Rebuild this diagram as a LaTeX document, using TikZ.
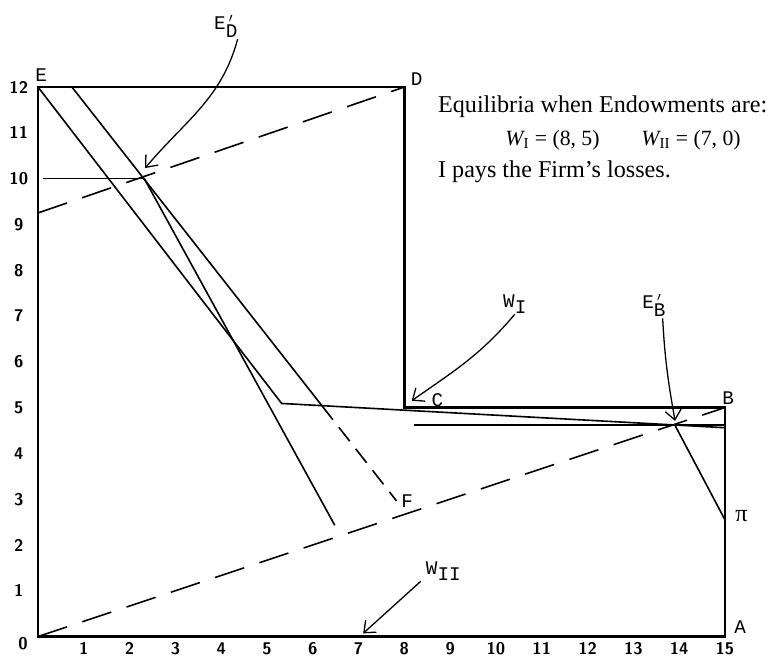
\documentclass[tikz,border=0pt]{standalone}
\usepackage{fontspec}
\setmainfont{Liberation Serif}
\setmonofont{Liberation Mono}
\usetikzlibrary{arrows.meta}

\begin{document}
\begin{tikzpicture}[
  frame/.style={line width=1.4pt, line join=miter},
  curve/.style={line width=1pt},
  longdash/.style={line width=1pt, dash pattern=on 19pt off 10pt},
  shortdash/.style={line width=1pt, dash pattern=on 11pt off 6pt},
  lbl/.style={font=\ttfamily\fontsize{12}{13}\selectfont, inner sep=1pt},
  tick/.style={font=\sffamily\bfseries\fontsize{10.5}{12}\selectfont, inner sep=0pt},
  note/.style={font=\fontsize{15}{17}\selectfont, anchor=west, inner sep=0pt},
  arrow/.style={-{Straight Barb[length=6pt,width=10pt]}, line width=0.8pt},
]
\useasboundingbox (-0.83,-0.42) rectangle (15.94,13.90);

% corners of the box
\coordinate (O) at (0,0);
\coordinate (A) at (15,0);
\coordinate (B) at (15,5);
\coordinate (C) at (8,5);
\coordinate (D) at (8,12);
\coordinate (E) at (0,12);

% points of the curves
\coordinate (Etop) at (0.74,12);
\coordinate (EDp) at (2.32,10);
\coordinate (H10) at (0.1,10);
\coordinate (Dlow) at (0,9.25);
\coordinate (K) at (5.32,5.09);
\coordinate (Kend) at (15,4.56);
\coordinate (X) at (6.2,5.04);
\coordinate (F) at (7.83,2.96);
\coordinate (Hbot) at (6.48,2.43);
\coordinate (EBp) at (13.9,4.63);
\coordinate (Hline) at (8.2,4.62);
\coordinate (Hend) at (15,4.62);
\coordinate (Pi) at (15,2.55);

% box
\draw[frame] (O) -- (A) -- (B) -- (C) -- (D) -- (E) -- cycle;

% dashed lines
\draw[longdash] (O) -- (B);
\draw[longdash] (Dlow) -- (D);

% solid lines
\draw[curve] (E) -- (K) -- (Kend);
\draw[curve] (Etop) -- (X);
\draw[shortdash] (X) -- (F);
\draw[curve] (EDp) -- (Hbot);
\draw[curve] (H10) -- (EDp);
\draw[curve] (Hline) -- (Hend);
\draw[curve] (EBp) -- (Pi);

% point labels
\node[lbl, anchor=south west] (Elbl) at (-0.1,12.08) {E};
\node[lbl, anchor=south west] (Dlbl) at (8.1,12.0) {D};
\node[lbl, anchor=south west] (Clbl) at (8.55,4.98) {C};
\node[lbl, anchor=south] (Blbl) at (15.07,5.02) {B};
\node[lbl] (Albl) at (15.33,0.2) {A};
\node[lbl, font=\rmfamily\fontsize{15}{16}\selectfont] (Pilbl) at (15.36,2.62) {π};
\node[lbl] (Flbl) at (8.06,2.95) {F};

% arrow labels
\node[lbl] (EDlbl) at (4.1,13.33) {E\rlap{\,$^{\prime}$}\raisebox{-0.75ex}{D}};
\node[lbl] (WIlbl) at (10.41,7.25) {W\raisebox{-0.6ex}{I}};
\node[lbl] (EBlbl) at (13.45,7.23) {E\rlap{\,$^{\prime}$}\raisebox{-0.75ex}{B}};
\node[lbl] (WIIlbl) at (8.85,1.42) {W\raisebox{-0.6ex}{II}};

\coordinate (EDtip) at (2.34,10.23);
\coordinate (WItip) at (8.16,5.15);
\coordinate (EBtip) at (13.91,4.71);
\coordinate (WIItip) at (7.1,0.07);

\draw[arrow] ([xshift=-1pt]EDlbl.south east) to[out=-105,in=50] (EDtip);
\draw[arrow] ([yshift=1pt]WIlbl.south) to[out=-130,in=35] (WItip);
\draw[arrow] ([xshift=-3pt]EBlbl.south east) to[out=-87,in=100] (EBtip);
\draw[arrow] ([xshift=-2pt,yshift=1pt]WIIlbl.south west) -- (WIItip);

% axis numbers
\foreach \i in {1,...,15}
  \node[tick] (x\i) at (\i,-0.27) {\i};
\foreach \i in {1,...,12}
  \node[tick] (y\i) at (-0.42,\i) {\i};
\node[tick] (zero) at (-0.33,-0.15) {0};

% legend text
\node[note] (note1) at (8.73,11.56) {Equilibria when Endowments are:};
\node[note, font=\fontsize{13.5}{16}\selectfont] (note2) at (10.2,10.84) {{\itshape W}\textsubscript{I} = (8, 5)\hspace{26pt}{\itshape W}\textsubscript{II} = (7, 0)};
\node[note] (note3) at (8.73,10.14) {I pays the Firm’s losses.};
\end{tikzpicture}
\end{document}
